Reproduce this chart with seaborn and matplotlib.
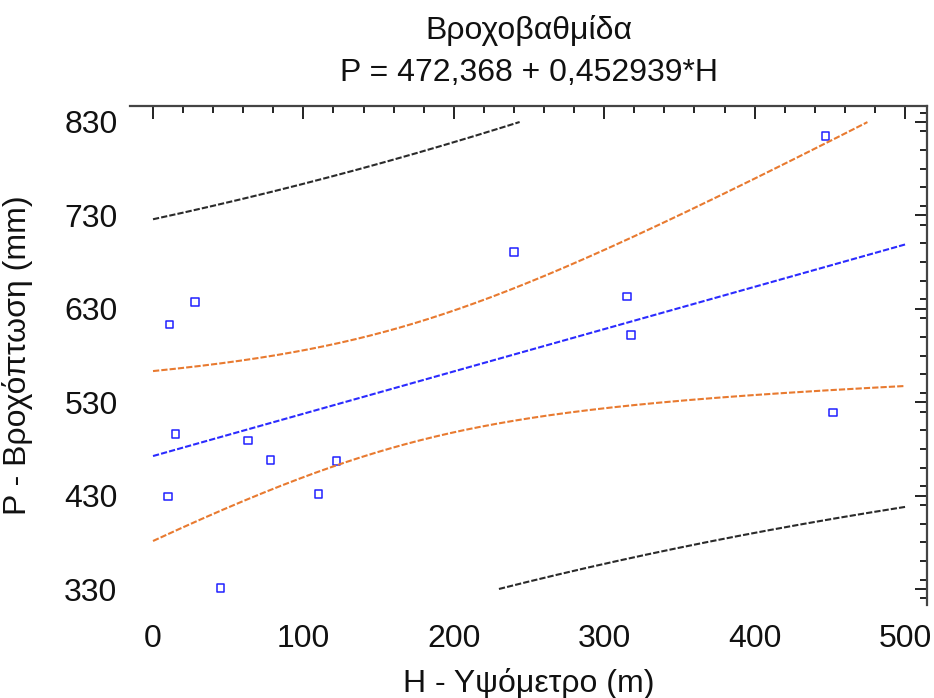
import numpy as np
import pandas as pd
import matplotlib
matplotlib.use("Agg")
import matplotlib.pyplot as plt
from matplotlib.ticker import MultipleLocator
import seaborn as sns

# Stations: altitude H (m) and annual precipitation P (mm)
altitude = [11, 28, 240, 15, 63, 78, 122, 10, 110, 45, 447, 315, 318, 452]
precip = [613, 637, 691, 496, 489, 468, 467, 429, 432, 331, 815, 643, 602, 519]

# Fitted model  P = a + b*H
intercept = 472.368
slope = 0.452939
t_crit = 2.179  # Student t, 95 %, n-2 = 12 degrees of freedom

x_ticks = [0, 100, 200, 300, 400, 500]
y_ticks = [330, 430, 530, 630, 730, 830]
x_range = (-15.3, 514.6)
y_range = (312.9, 847.1)

title_name = "Βροχοβαθμίδα"
title_eq = "P = 472,368 + 0,452939*H"
x_label = "H - Υψόμετρο (m)"
y_label = "P - Βροχόπτωση (mm)"

# ---- regression bands -------------------------------------------------
h_obs = np.asarray(altitude, float)
p_obs = np.asarray(precip, float)
n = len(h_obs)
h_mean = h_obs.mean()
sxx = ((h_obs - h_mean) ** 2).sum()
resid = p_obs - (intercept + slope * h_obs)
s = np.sqrt((resid ** 2).sum() / (n - 2))

h = np.linspace(0, 500, 2001)
fit = intercept + slope * h
lev = 1.0 / n + (h - h_mean) ** 2 / sxx
conf = t_crit * s * np.sqrt(lev)
pred = t_crit * s * np.sqrt(1.0 + lev)

curves = {
    "fit": (fit, "#2b2bff"),
    "conf_hi": (fit + conf, "#e87a30"),
    "conf_lo": (fit - conf, "#e87a30"),
    "pred_hi": (fit + pred, "#2a2a2a"),
    "pred_lo": (fit - pred, "#2a2a2a"),
}

FS = 23

sns.set_theme(style="white")
plt.rcParams["font.family"] = ["Liberation Sans", "DejaVu Sans"]

fig = plt.figure(figsize=(9.34, 6.98), dpi=100)
ax = fig.add_axes([130 / 934, 1 - 605 / 698, 797 / 934, 499 / 698])

for name, (vals, col) in curves.items():
    v = np.where((vals >= 330) & (vals <= 830), vals, np.nan)
    df = pd.DataFrame({"H": h, "P": v}).dropna()
    sns.lineplot(data=df, x="H", y="P", ax=ax, color=col, lw=1.5,
                 linestyle=(0, (3, 1)), estimator=None, sort=False)

pts = pd.DataFrame({"H": altitude, "P": precip})
sns.scatterplot(data=pts, x="H", y="P", ax=ax, marker="s", s=30,
                facecolor="none", edgecolor="#2020ff", linewidth=1.1)

ax.set_xlim(*x_range)
ax.set_ylim(*y_range)
ax.set_xticks(x_ticks)
ax.set_yticks(y_ticks)
ax.xaxis.set_minor_locator(MultipleLocator(20))
ax.yaxis.set_minor_locator(MultipleLocator(20))
ax.tick_params(which="both", direction="in", top=True, right=True,
               color="#222222", width=1.4)
ax.tick_params(which="major", length=9, labelsize=FS, labelcolor="#111111")
ax.tick_params(axis="x", which="major", pad=14)
ax.tick_params(axis="y", which="major", pad=9)
ax.tick_params(which="minor", length=5)

for side in ("left", "bottom"):
    ax.spines[side].set_visible(False)
for side in ("top", "right"):
    ax.spines[side].set_color("#444444")
    ax.spines[side].set_linewidth(1.6)

ax.set_xlabel(x_label, fontsize=FS, color="#111111")
ax.set_ylabel(y_label, fontsize=FS, color="#111111")
ax.xaxis.set_label_coords(0.5, -0.127)
ax.yaxis.set_label_coords(-0.122, 0.5)

fig.text(529 / 934, 1 - 30 / 698, title_name, ha="center", va="center",
         fontsize=FS, color="#111111")
fig.text(529 / 934, 1 - 73 / 698, title_eq, ha="center", va="center",
         fontsize=FS, color="#111111")

fig.savefig("out.png", dpi=100, facecolor="white")
